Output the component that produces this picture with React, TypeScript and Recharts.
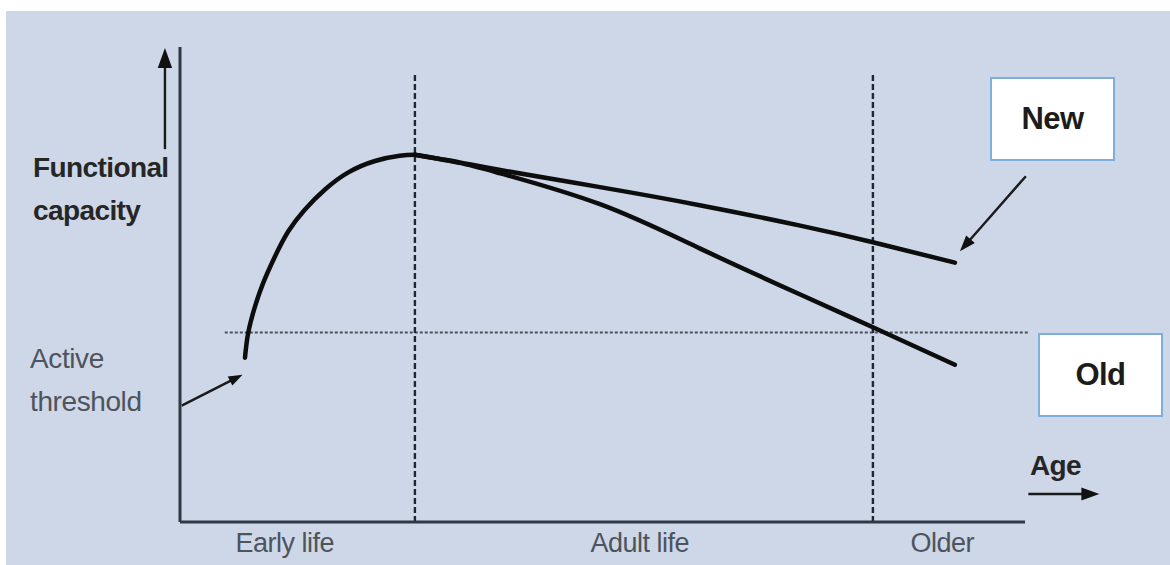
import React from "react";
import { ComposedChart, Line, XAxis, YAxis, ReferenceLine } from "recharts";

// curve points, arbitrary age / capacity units (0-100)
const earlyLife = [
  { x: 7.69, y: 34.6 }, { x: 8.08, y: 39.9 }, { x: 8.88, y: 45.4 }, { x: 9.86, y: 50.4 },
  { x: 11.24, y: 55.9 }, { x: 12.82, y: 61.2 }, { x: 14.79, y: 65.8 }, { x: 17.16, y: 70.0 },
  { x: 19.92, y: 73.6 }, { x: 23.08, y: 76.0 }, { x: 26.0, y: 77.1 }, { x: 27.8, y: 77.3 },
];
const newCurve = [
  { x: 27.8, y: 77.3 }, { x: 33.1, y: 75.7 }, { x: 37.9, y: 74.1 }, { x: 49.7, y: 70.5 },
  { x: 61.5, y: 66.7 }, { x: 73.4, y: 62.4 }, { x: 82.0, y: 58.9 }, { x: 91.7, y: 54.6 },
];
const oldCurve = [
  { x: 27.8, y: 77.3 }, { x: 33.1, y: 75.6 }, { x: 37.9, y: 73.4 }, { x: 49.7, y: 66.9 },
  { x: 61.5, y: 57.6 }, { x: 73.4, y: 47.9 }, { x: 82.0, y: 41.0 }, { x: 91.7, y: 33.1 },
];
const stages = ["Early life", "Adult life", "Older"];
const stageTicks = [12.4, 54.4, 90.2];
const stageBounds = [27.8, 82.0];
const threshold = 39.9;

// annotation arrows [x1, y1, x2, y2, head length]
const arrows = [
  [-1.78, 78.5, -1.78, 99.8, 20],
  [0.2, 24.5, 7.4, 31.0, 14],
  [100.1, 72.8, 92.3, 57.0, 16],
  [100.4, 5.9, 108.8, 5.9, 18],
];

const INK = "#0d0d0d";
const AXIS = "#2f3944";
const FONT = "'Liberation Sans', Arial, sans-serif";

function makeArrow(L: number) {
  return (p: any) => {
    const { x1, y1, x2, y2 } = p;
    const dx = x2 - x1, dy = y2 - y1;
    const len = Math.hypot(dx, dy) || 1;
    const ux = dx / len, uy = dy / len;
    const W = L * 0.36;
    const bx = x2 - ux * L, by = y2 - uy * L;
    return (
      <g>
        <line x1={x1} y1={y1} x2={bx + ux * 2} y2={by + uy * 2} stroke="#1a1a1a" strokeWidth={2.4} />
        <polygon points={`${x2},${y2} ${bx - uy * W},${by + ux * W} ${bx + uy * W},${by - ux * W}`} fill="#111" />
      </g>
    );
  };
}

const txt: React.CSSProperties = { position: "absolute", fontFamily: FONT, fontSize: 28, lineHeight: "43px", letterSpacing: -0.6, whiteSpace: "nowrap" };

function Box({ label, left, top }: { label: string; left: number; top: number }) {
  return (
    <div style={{ position: "absolute", left, top, width: 121, height: 80, background: "#fff", border: "2px solid #7eaedb", display: "flex", alignItems: "center", justifyContent: "center", fontFamily: FONT, fontWeight: 700, fontSize: 31, letterSpacing: -0.6, color: "#1c1c1c" }}>
      {label}
    </div>
  );
}

export default function App() {
  return (
    <div style={{ position: "absolute", left: 0, top: 0, width: 1170, height: 565, background: "#fff", overflow: "hidden" }}>
      <div style={{ position: "absolute", left: 6, top: 11, width: 1164, height: 554, background: "#cdd7e7" }} />
      <ComposedChart width={1170} height={565} margin={{ top: 47, right: 145, bottom: 3, left: 170 }} style={{ position: "absolute", left: 0, top: 0 }}>
        <XAxis dataKey="x" type="number" domain={[0, 100]} allowDataOverflow height={40} ticks={stageTicks}
          tickFormatter={(v: number) => stages[stageTicks.indexOf(v)] ?? ""} tickLine={false} tickSize={0} tickMargin={11}
          axisLine={{ stroke: AXIS, strokeWidth: 3 }} tick={{ fill: "#4d545c", fontSize: 27, fontFamily: FONT, letterSpacing: -0.5 }} interval={0} />
        <YAxis type="number" domain={[0, 100]} allowDataOverflow width={10} tick={false} tickLine={false} axisLine={{ stroke: AXIS, strokeWidth: 3 }} />
        <ReferenceLine segment={[{ x: 5.3, y: threshold }, { x: 100.4, y: threshold }]} stroke="#4a525c" strokeWidth={2.2} strokeDasharray="3 2" ifOverflow="visible" />
        {stageBounds.map((b) => (
          <ReferenceLine key={b} segment={[{ x: b, y: 0 }, { x: b, y: 94.3 }]} stroke="#1f2730" strokeWidth={2.4} strokeDasharray="6 3" ifOverflow="visible" />
        ))}
        <Line data={earlyLife} dataKey="y" type="natural" dot={false} stroke={INK} strokeWidth={4.5} strokeLinecap="round" isAnimationActive={false} />
        <Line data={newCurve} dataKey="y" type="natural" dot={false} stroke={INK} strokeWidth={4.5} strokeLinecap="round" isAnimationActive={false} />
        <Line data={oldCurve} dataKey="y" type="natural" dot={false} stroke={INK} strokeWidth={4.5} strokeLinecap="round" isAnimationActive={false} />
        {arrows.map((a, i) => (
          <ReferenceLine key={"a" + i} segment={[{ x: a[0], y: a[1] }, { x: a[2], y: a[3] }]} ifOverflow="visible" shape={makeArrow(a[4])} />
        ))}
      </ComposedChart>
      <div style={{ ...txt, left: 33, top: 146, fontWeight: 700, color: "#262626" }}>Functional<br />capacity</div>
      <div style={{ ...txt, left: 30, top: 337, color: "#4d545c", letterSpacing: -0.4 }}>Active<br />threshold</div>
      <div style={{ ...txt, left: 1030, top: 444, fontWeight: 700, color: "#262626" }}>Age</div>
      <Box label="New" left={990} top={77} />
      <Box label="Old" left={1038} top={333} />
    </div>
  );
}
